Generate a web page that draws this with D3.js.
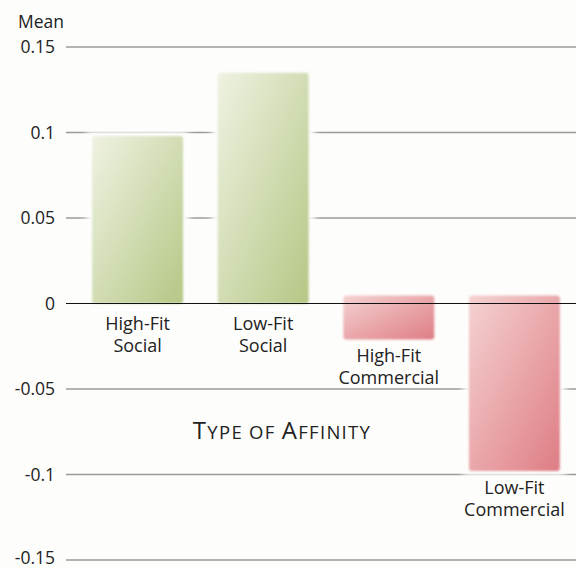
<!DOCTYPE html>
<html><head><meta charset="utf-8">
<script src="https://cdn.jsdelivr.net/npm/d3@7"></script>
<style>html,body{margin:0;padding:0;background:#fdfdfb;}</style>
</head><body>
<svg id="chart" width="576" height="568"></svg>
<script>
const categories = [["High-Fit","Social"],["Low-Fit","Social"],["High-Fit","Commercial"],["Low-Fit","Commercial"]];
const values = [0.098, 0.135, -0.021, -0.098];
const yTicks = [0.15, 0.1, 0.05, 0, -0.05, -0.1, -0.15];
const yTickLabels = ["0.15","0.1","0.05","0","-0.05","-0.1","-0.15"];
const yTitle = "Mean";
const xTitle = "Type of Affinity";

const svg = d3.select("#chart");
const font = "'Open Sans', 'Noto Sans', sans-serif";
const y = d3.scaleLinear().domain([-0.15, 0.15]).range([560, 47]);
const x = d3.scaleBand().domain(d3.range(categories.length)).range([67, 585]).paddingInner(0.276).paddingOuter(0.2);

const defs = svg.append("defs");
const gG = defs.append("linearGradient").attr("id","gGreen").attr("x1","0").attr("y1","0").attr("x2","1").attr("y2","1");
gG.append("stop").attr("offset","0").attr("stop-color","#eef2e2");
gG.append("stop").attr("offset","1").attr("stop-color","#b5c785");
const gR = defs.append("linearGradient").attr("id","gRed").attr("x1","0").attr("y1","0").attr("x2","1").attr("y2","1");
gR.append("stop").attr("offset","0").attr("stop-color","#f5d2d2");
gR.append("stop").attr("offset","1").attr("stop-color","#de7d84");
const blur = defs.append("filter").attr("id","soft").attr("x","-20%").attr("y","-20%").attr("width","140%").attr("height","140%");
blur.append("feGaussianBlur").attr("stdDeviation","1.2");
const halo = defs.append("filter").attr("id","halo").attr("x","-20%").attr("y","-20%").attr("width","140%").attr("height","140%");
halo.append("feGaussianBlur").attr("stdDeviation","3");

// gridlines
svg.append("g").selectAll("line").data(yTicks.filter(d => d !== 0)).join("line")
  .attr("x1", 66).attr("x2", 576)
  .attr("y1", d => y(d)).attr("y2", d => y(d))
  .attr("stroke", "#9a9a9a").attr("stroke-width", 1.5);

// halos behind bars
svg.append("g").selectAll("rect").data(values).join("rect")
  .attr("x", (d,i) => x(i) - 6).attr("width", x.bandwidth() + 12)
  .attr("y", d => Math.min(y(d), y(0)) - 5)
  .attr("height", d => Math.abs(y(d) - y(0)) + 10)
  .attr("fill", "#fdfdfb").attr("filter", "url(#halo)");

// bars
svg.append("g").selectAll("rect").data(values).join("rect")
  .attr("x", (d,i) => x(i)).attr("width", x.bandwidth())
  .attr("y", d => d >= 0 ? y(d) : y(0) - 8)
  .attr("height", d => Math.abs(y(d) - y(0)) + (d >= 0 ? 0 : 8))
  .attr("rx", 3)
  .attr("fill", d => d >= 0 ? "url(#gGreen)" : "url(#gRed)")
  .attr("filter", "url(#soft)");

// zero line
svg.append("line").attr("x1", 66).attr("x2", 576).attr("y1", y(0)).attr("y2", y(0))
  .attr("stroke", "#111").attr("stroke-width", 1.2);

// y tick labels
svg.append("g").selectAll("text").data(yTicks).join("text")
  .attr("x", 55).attr("y", d => Math.min(y(d) + 6, 564))
  .attr("text-anchor", "end").attr("font-family", font).attr("font-size", 17.5).attr("fill", "#222")
  .text((d,i) => yTickLabels[i]);

svg.append("text").attr("x", 18).attr("y", 28).attr("font-family", font).attr("font-size", 17.5).attr("fill", "#222").text(yTitle);

// category labels
const labelY = values.map(d => d >= 0 ? y(0) + 26 : y(d) + 23);
const cl = svg.append("g").selectAll("text").data(categories).join("text")
  .attr("text-anchor", "middle").attr("font-family", font).attr("font-size", 18).attr("fill", "#222")
  .attr("x", (d,i) => x(i) + x.bandwidth()/2)
  .attr("y", (d,i) => labelY[i]);
cl.selectAll("tspan").data(d => d).join("tspan")
  .attr("x", function(){ return d3.select(this.parentNode).attr("x"); })
  .attr("dy", (d,j) => j === 0 ? 0 : 22)
  .text(d => d);

// x title in small caps (built from the title text)
const tt = svg.append("text").attr("x", 282).attr("y", 439).attr("text-anchor", "middle")
  .attr("font-family", font).attr("fill", "#222").attr("letter-spacing", 1.3)
  .attr("xml:space", "preserve");
const pieces = [];
xTitle.split(" ").forEach((w, wi) => {
  if (wi > 0) pieces.push({t: " ", big: false});
  const first = w[0];
  const rest = w.slice(1);
  if (first === first.toUpperCase()) { pieces.push({t: first, big: true}); pieces.push({t: rest.toUpperCase(), big: false}); }
  else pieces.push({t: w.toUpperCase(), big: false});
});
tt.selectAll("tspan").data(pieces).join("tspan")
  .attr("font-size", d => d.big ? 24 : 18.5)
  .text(d => d.t);
</script>
</body></html>
